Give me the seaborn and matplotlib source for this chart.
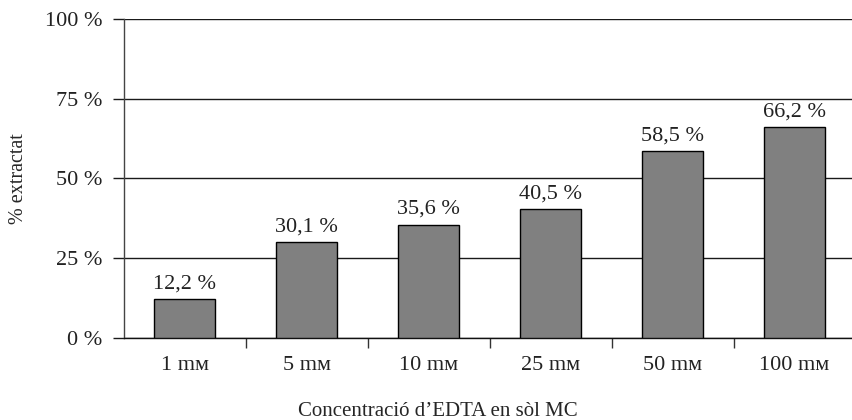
import matplotlib
matplotlib.use("Agg")
import matplotlib.pyplot as plt
from matplotlib.ticker import FixedLocator, FuncFormatter
import seaborn as sns
import pandas as pd

# Extraction data
concentrations = ["1 m\u1D0D", "5 m\u1D0D", "10 m\u1D0D", "25 m\u1D0D", "50 m\u1D0D", "100 m\u1D0D"]
extracted = [12.2, 30.1, 35.6, 40.5, 58.5, 66.2]
y_ticks = [0, 25, 50, 75, 100]

df = pd.DataFrame({"conc": concentrations, "pct": extracted})

sns.set_style("white")
plt.rcParams["font.family"] = ["Liberation Serif", "DejaVu Serif"]
plt.rcParams["text.color"] = "#222222"
plt.rcParams["xtick.color"] = "#222222"
plt.rcParams["ytick.color"] = "#222222"

fig = plt.figure(figsize=(8.52, 4.20), dpi=100)
ax = fig.add_axes([124 / 852, 81.7 / 420, 731.4 / 852, 319.6 / 420])

sns.barplot(data=df, x="conc", y="pct", color="#808080", edgecolor="black",
            linewidth=1.0, width=0.5, saturation=1, ax=ax, zorder=3)

ax.set_ylim(0, 100)
ax.set_xlim(-0.5, len(concentrations) - 0.5)
ax.set_yticks(y_ticks)
ax.yaxis.set_major_formatter(FuncFormatter(lambda v, p: f"{int(v)} %"))
ax.grid(axis="y", color="#1a1a1a", linewidth=1.0, zorder=0)
ax.set_axisbelow(True)

for s in ["top", "right"]:
    ax.spines[s].set_visible(False)
ax.spines["left"].set_color("#444444")
ax.spines["bottom"].set_color("#111111")
ax.spines["left"].set_linewidth(1.0)
ax.spines["bottom"].set_linewidth(1.0)

ax.tick_params(axis="y", direction="out", length=8, width=1.0, color="#1a1a1a",
               pad=7.5, labelsize=16, left=True)
ax.tick_params(axis="x", which="major", length=0, pad=13, labelsize=16)
ax.xaxis.set_minor_locator(FixedLocator([i + 0.5 for i in range(len(concentrations) - 1)]))
ax.tick_params(axis="x", which="minor", direction="out", length=7, width=1.0,
               color="#333333", bottom=True)

for i, v in enumerate(extracted):
    ax.annotate(f"{v:.1f} %".replace(".", ","), (i, v), xytext=(0, 4),
                textcoords="offset points", ha="center", va="bottom", fontsize=16)

ax.set_xlabel("Concentració d\u2019EDTA en sòl MC", fontsize=15)
ax.xaxis.set_label_coords((438 - 124) / 731.4, -0.2)
ax.set_ylabel("% extractat", fontsize=14.5, labelpad=12)

fig.savefig("out.png", dpi=100)
